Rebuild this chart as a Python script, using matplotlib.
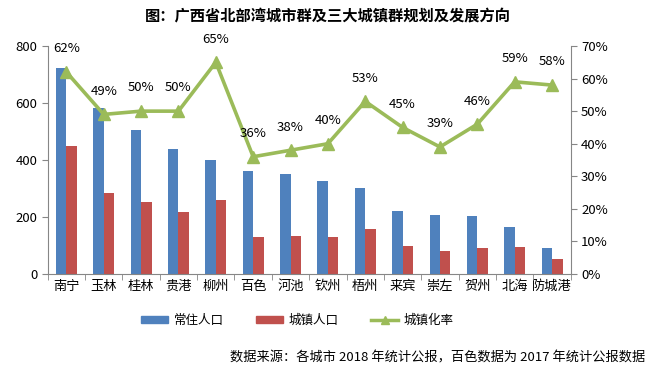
import numpy as np
import matplotlib.pyplot as plt
from matplotlib.ticker import FuncFormatter
from matplotlib.lines import Line2D
from matplotlib.patches import Patch

plt.rcParams['font.family'] = ['Noto Sans CJK SC', 'DejaVu Sans']

cities = ['南宁', '玉林', '桂林', '贵港', '柳州', '百色', '河池', '钦州',
          '梧州', '来宾', '崇左', '贺州', '北海', '防城港']
resident = [722, 582, 505, 439, 400, 361, 351, 326, 302, 221, 207, 204, 165, 91]
urban = [449, 284, 253, 218, 260, 130, 133, 130, 158, 98, 81, 91, 95, 53]
rate = [62, 49, 50, 50, 65, 36, 38, 40, 53, 45, 39, 46, 59, 58]

blue = '#4F81BD'
red = '#C0504D'
green = '#9BBB59'
grey = '#868686'

fig = plt.figure(figsize=(6.56, 3.73), dpi=100)
ax = fig.add_axes([0.0727, 0.2654, 0.7973, 0.6113])
x = np.arange(len(cities))
w = 0.28
ax.bar(x - w / 2, resident, w, color=blue, label='常住人口')
ax.bar(x + w / 2, urban, w, color=red, label='城镇人口')
ax.set_xlim(-0.5, len(cities) - 0.5)
ax.set_ylim(0, 800)
ax.set_yticks(range(0, 801, 200))
ax.set_xticks(x)
ax.set_xticklabels(cities)
ax.set_xticks(np.arange(-0.5, len(cities), 1), minor=True)
ax.tick_params(axis='x', which='major', length=0, labelsize=9.5, pad=4)
ax.tick_params(axis='x', which='minor', length=4, color=grey)
ax.tick_params(axis='y', labelsize=9.5, length=4, color=grey)
for s in ['top', 'right']:
    ax.spines[s].set_visible(False)
for s in ['left', 'bottom']:
    ax.spines[s].set_color(grey)

ax2 = ax.twinx()
ax2.plot(x, rate, color=green, lw=2.6, marker='^', markersize=8)
ax2.set_ylim(0, 70)
ax2.set_yticks(range(0, 71, 10))
ax2.yaxis.set_major_formatter(FuncFormatter(lambda v, p: f'{v:.0f}%'))
ax2.tick_params(axis='y', labelsize=9.5, length=4, color=grey)
for s in ['top', 'left', 'bottom']:
    ax2.spines[s].set_visible(False)
ax2.spines['right'].set_color(grey)
for xi, r in zip(x, rate):
    ax2.annotate(f'{r}%', (xi, r), xytext=(0, 12), textcoords='offset points',
                 ha='center', va='bottom', fontsize=9.5)

fig.text(0.5, 0.955, '图：广西省北部湾城市群及三大城镇群规划及发展方向',
         ha='center', va='center', fontsize=11, fontweight='bold')

handles = [Patch(color=blue), Patch(color=red),
           Line2D([], [], color=green, lw=2.5, marker='^', markersize=6)]
fig.legend(handles, ['常住人口', '城镇人口', '城镇化率'], loc='center',
           bbox_to_anchor=(0.453, 0.14), ncol=3, frameon=False, fontsize=9,
           handlelength=2.2, handleheight=0.5, columnspacing=2.6, handletextpad=0.4)

fig.text(0.983, 0.04, '数据来源：各城市 2018 年统计公报，百色数据为 2017 年统计公报数据',
         ha='right', va='center', fontsize=9.5)

fig.savefig('out.png', dpi=100)
